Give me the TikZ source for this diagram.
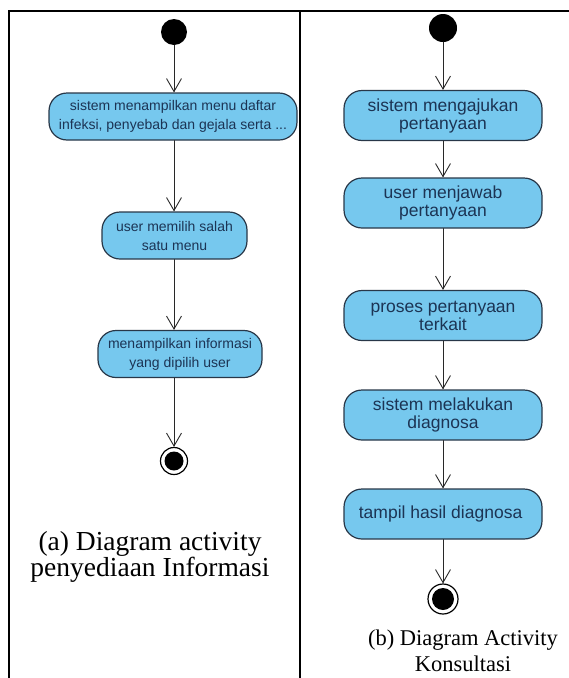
\documentclass[tikz,border=0pt]{standalone}
\usepackage{fontspec}
\setmainfont{Liberation Serif}
\newfontfamily\actfont{Liberation Sans}
\usetikzlibrary{arrows.meta}

\definecolor{actfill}{RGB}{118,200,238}
\definecolor{actline}{RGB}{40,55,72}
\definecolor{acttext}{RGB}{28,52,84}
\definecolor{flowline}{RGB}{40,40,40}

\tikzset{
  act/.style={draw=actline, fill=actfill, rounded corners=18pt, line width=1.2pt,
    align=center, text=acttext, inner sep=0pt},
  actA/.style={act, font=\actfont\fontsize{14}{19}\selectfont, minimum height=47pt},
  actB/.style={act, font=\actfont\fontsize{17.5}{18}\selectfont, minimum height=50pt, minimum width=198pt},
  startdot/.style={circle, fill=black, inner sep=0pt},
  enddot/.style={circle, draw=black, line width=1.2pt, inner sep=0pt,
    path picture={\fill[black] (path picture bounding box.center) circle (#1);}},
  flow/.style={-{Straight Barb[length=13pt,width=15pt]}, line width=0.9pt, draw=flowline},
}

\begin{document}
\begin{tikzpicture}[x=1pt,y=-1pt,line cap=round,line join=round]
    \useasboundingbox (0,0) rectangle (569,678);

    % frame of the two panels
    \draw[line width=2pt, line cap=butt] (8,11) -- (569,11);
    \draw[line width=2pt, line cap=butt] (9,11) -- (9,678);
    \draw[line width=2pt, line cap=butt] (300,11) -- (300,678);

    % (a) penyediaan informasi
    \node[startdot, minimum size=26pt] (a0) at (174,32) {};
    \node[actA, minimum width=248pt] (a1) at (173,116.5) {sistem menampilkan menu daftar\\infeksi, penyebab dan gejala serta ...};
    \node[actA, minimum width=145pt] (a2) at (174.5,235.5) {user memilih salah\\satu menu};
    \node[actA, minimum width=164pt] (a3) at (180,354) {menampilkan informasi\\yang dipilih user};
    \node[enddot=9.5pt, minimum size=27pt] (a4) at (174,461) {};

    \draw[flow] (a0) -- (a1.north -| a0);
    \draw[flow] (a1.south -| a0) -- (a2.north -| a0);
    \draw[flow] (a2.south -| a0) -- (a3.north -| a0);
    \draw[flow] (a3.south -| a0) -- (a4);

    \node[font=\fontsize{27.5}{26}\selectfont, align=center] (capa) at (150,557) {(a) Diagram activity\\penyediaan Informasi};

    % (b) konsultasi
    \node[startdot, minimum size=28pt] (b0) at (443,28) {};
    \foreach \name/\y/\txt in {
      b1/115.5/{sistem mengajukan\\pertanyaan},
      b2/203/{user menjawab\\pertanyaan},
      b3/315.5/{proses pertanyaan\\terkait},
      b4/415/{sistem melakukan\\diagnosa},
      b5/514/{tampil hasil diagnosa}
    } {
      \node[actB] (\name) at (443,\y) {\txt};
    }
    \node[enddot=11pt, minimum size=30pt] (b6) at (443,599) {};

    \foreach \u/\v in {b0/b1,b1/b2,b2/b3,b3/b4,b4/b5,b5/b6}
      \draw[flow] (\u) -- (\v);

    \node[font=\fontsize{22.5}{26}\selectfont, align=center] (capb) at (463,651) {(b) Diagram Activity\\Konsultasi};

\end{tikzpicture}
\end{document}
